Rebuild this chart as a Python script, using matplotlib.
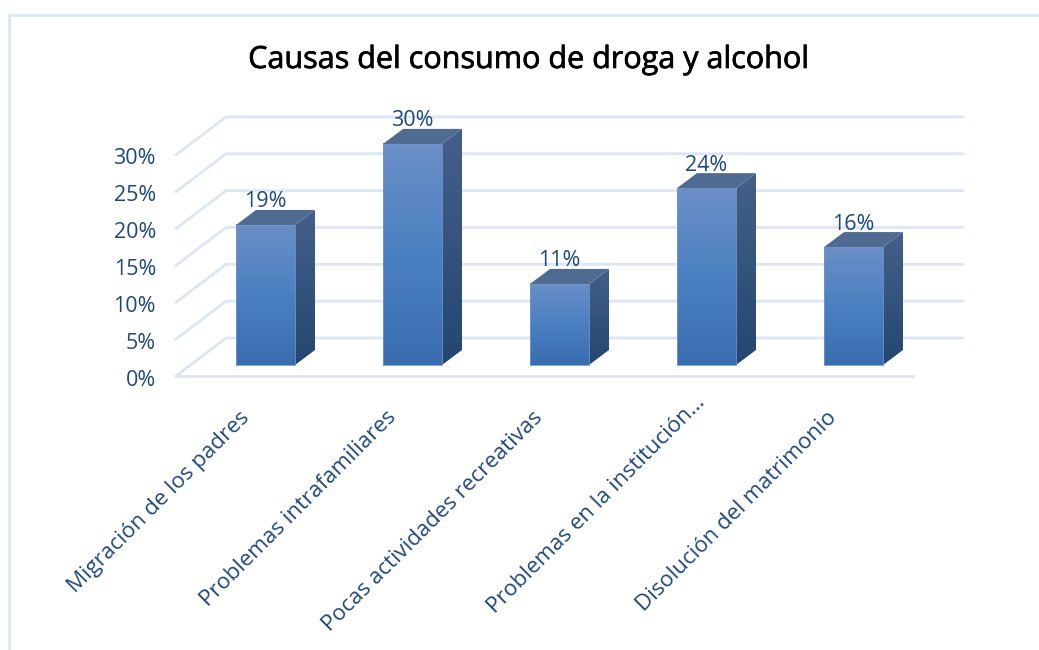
import numpy as np
import matplotlib
matplotlib.use('Agg')
import matplotlib.pyplot as plt
import matplotlib.patheffects as pe
from matplotlib.colors import LinearSegmentedColormap
from matplotlib.patches import Polygon

# ── Data ─────────────────────────────────────────────────────
categories = ['Migración de los padres', 'Problemas intrafamiliares',
              'Pocas actividades recreativas', 'Problemas en la institución…',
              'Disolución del matrimonio']
values = [19, 30, 11, 24, 16]
y_ticks = [0, 5, 10, 15, 20, 25, 30]
title = 'Causas del consumo de droga y alcohol'

# ── Style ────────────────────────────────────────────────────
TEXT = '#1f497d'
GRID = '#dce6f4'
TOP = '#506b92'
front_cm = LinearSegmentedColormap.from_list('front', ['#6b8fc6', '#4a80c2', '#3a6db0'])
side_cm = LinearSegmentedColormap.from_list('side', ['#45608a', '#234670'])

plt.rcParams['font.family'] = ['Open Sans', 'DejaVu Sans']

W, H = 1039, 650
fig = plt.figure(figsize=(W / 100, H / 100), dpi=100)
ax = fig.add_axes([0, 0, 1, 1])

# axes scale: 1 category = 147 px, 1 % = 7.37 px, first bar centre at x=265.5, bar base at y=365
PX_X, PX_Y = 147.0, 7.37
ax.set_xlim(-265.5 / PX_X, (W - 265.5) / PX_X)
ax.set_ylim((365 - H) / PX_Y, 365 / PX_Y)
ax.axis('off')

bw = 59 / PX_X
bar_dx, bar_dy = 20 / PX_X, 15 / PX_Y       # bar depth
fl_x0, fl_x1, fl_y = -89.5 / PX_X, 647 / PX_X, -11 / PX_Y  # front floor edge
wall_dx, wall_dy = 50 / PX_X, 38 / PX_Y     # floor depth

# frame
ax.plot([(9 - 265.5) / PX_X] * 2, [(365 - H) / PX_Y, (365 - 15) / PX_Y], color=GRID, lw=2, zorder=1)
ax.plot([(9 - 265.5) / PX_X, (W - 265.5) / PX_X], [(365 - 15) / PX_Y] * 2, color=GRID, lw=2, zorder=1)

# grid: side wall + back wall
for t in y_ticks:
    y = fl_y + t
    ax.plot([fl_x0, fl_x0 + wall_dx, fl_x1 + wall_dx],
            [y, y + wall_dy, y + wall_dy], color=GRID, lw=2, zorder=1,
            solid_joinstyle='miter')
    ax.text(fl_x0 - 20 / PX_X, y - 4 / PX_Y, f'{t}%', ha='right', va='center',
            fontsize=15.5, color=TEXT)
ax.plot([fl_x0, fl_x1], [fl_y, fl_y], color=GRID, lw=2, zorder=1)

grad = np.linspace(0, 1, 256).reshape(-1, 1)
for i, (cat, v) in enumerate(zip(categories, values)):
    x0, x1 = i - bw / 2, i + bw / 2

    # front face
    ax.imshow(grad, extent=[x0, x1, 0, v], cmap=front_cm, aspect='auto', zorder=3)
    ax.plot([x0, x1, x1, x0, x0], [0, 0, v, v, 0], color='#6f97cf', lw=0.6, zorder=3.1)

    # side face, gradient clipped to the parallelogram
    side = Polygon([(x1, 0), (x1 + bar_dx, bar_dy), (x1 + bar_dx, v + bar_dy), (x1, v)],
                   closed=True, fc='none', ec='none', transform=ax.transData)
    ax.add_patch(side)
    im = ax.imshow(grad, extent=[x1, x1 + bar_dx, 0, v + bar_dy], cmap=side_cm,
                   aspect='auto', zorder=3)
    im.set_clip_path(side)

    # top face
    ax.add_patch(Polygon([(x0, v), (x1, v), (x1 + bar_dx, v + bar_dy), (x0 + bar_dx, v + bar_dy)],
                         closed=True, fc=TOP, ec='none', zorder=3))

    ax.text(i + 0.5 * bar_dx - 10.5 / PX_X, v + bar_dy + 8 / PX_Y, f'{v}%', ha='center', va='center',
            fontsize=15.5, color=TEXT, zorder=4)

    # the truncated label sits further along its diagonal
    extra = 15 if cat.endswith('…') else 0
    ax.text(i + (extra - 27) / PX_X, (extra - 42) / PX_Y, cat, rotation=45, ha='right', va='top',
            rotation_mode='anchor', fontsize=16, color=TEXT)

ax.set_xlim(-265.5 / PX_X, (W - 265.5) / PX_X)
ax.set_ylim((365 - H) / PX_Y, 365 / PX_Y)

ax.text(263 / PX_X, (365 - 60) / PX_Y, title, ha='center', va='center', fontsize=22, color='black',
        path_effects=[pe.withStroke(linewidth=0.5, foreground='black')])

fig.savefig('out.png', dpi=100, facecolor='white')
